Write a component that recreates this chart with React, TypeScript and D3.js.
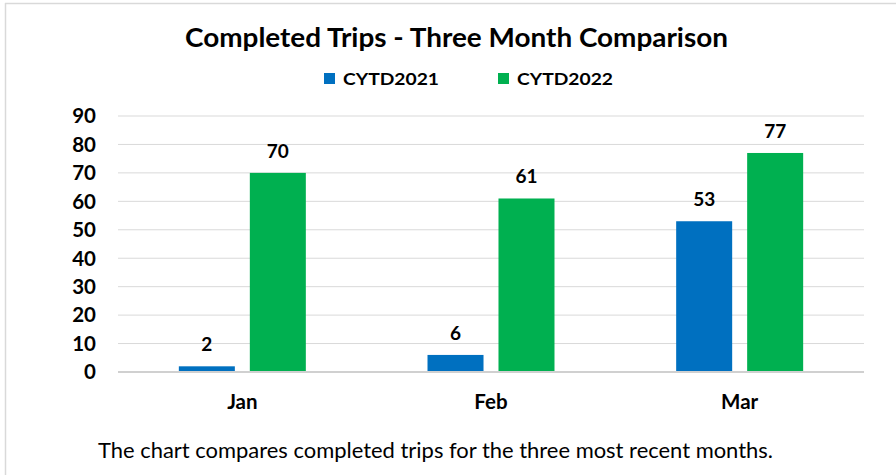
import React from "react";
import * as d3 from "d3";

const categories = ["Jan", "Feb", "Mar"];
const seriesNames = ["CYTD2021", "CYTD2022"];
const values2021 = [2, 6, 53];
const values2022 = [70, 61, 77];
const yTicks = [0, 10, 20, 30, 40, 50, 60, 70, 80, 90];
const colors = ["#0070C0", "#00B050"];

const W = 896;
const H = 475;
const FONT = "Lato, 'Open Sans', 'DejaVu Sans', sans-serif";

export default function App() {
  const left = 118;
  const right = 864;
  const top = 116;
  const bottom = 372;

  const y = d3.scaleLinear().domain([0, 90]).range([bottom, top]);
  const x0 = d3.scaleBand<string>().domain(categories).range([left, right]).padding(0);
  const x1 = d3
    .scaleBand<string>()
    .domain(seriesNames)
    .range([0, x0.bandwidth()])
    .paddingInner(0.211)
    .paddingOuter(0.857);

  const series = [values2021, values2022];

  return (
    <svg
      width={W}
      height={H}
      style={{ position: "absolute", left: 0, top: 0, background: "#fff" }}
      fontFamily={FONT}
    >
      <rect x={0} y={0} width={W} height={H} fill="#fff" />
      {/* chart border */}
      <line x1={5} y1={3.5} x2={W} y2={3.5} stroke="#d9d9d9" strokeWidth={1.5} />
      <line x1={5.5} y1={3} x2={5.5} y2={H} stroke="#d9d9d9" strokeWidth={1.5} />

      {/* title */}
      <text
        x={185}
        y={47}
        fontSize={26}
        fontWeight={700}
        fill="#000"
        textLength={543}
        lengthAdjust="spacingAndGlyphs"
      >
        Completed Trips - Three Month Comparison
      </text>

      {/* legend */}
      {seriesNames.map((s, i) => {
        const lx = i === 0 ? 324 : 498;
        return (
          <g key={s}>
            <rect x={lx} y={73} width={11} height={11} fill={colors[i]} />
            <text
              x={lx + 19}
              y={84.5}
              fontSize={17.5}
              fontWeight={700}
              fill="#000"
              textLength={96}
              lengthAdjust="spacingAndGlyphs"
            >
              {s}
            </text>
          </g>
        );
      })}

      {/* gridlines */}
      {yTicks.map((t) => (
        <line
          key={t}
          x1={left}
          x2={right}
          y1={y(t)}
          y2={y(t)}
          stroke={t === 0 ? "#d0d0d0" : "#d9d9d9"}
          strokeWidth={t === 0 ? 2 : 1}
        />
      ))}

      {/* y tick labels */}
      {yTicks.map((t) => (
        <text
          key={"l" + t}
          x={96}
          y={y(t)}
          dy="0.36em"
          textAnchor="end"
          fontSize={20.5}
          fontWeight={700}
          fill="#000"
        >
          {t}
        </text>
      ))}

      {/* bars */}
      {categories.map((c, ci) => (
        <g key={c} transform={`translate(${x0(c)},0)`}>
          {seriesNames.map((s, si) => {
            const v = series[si][ci];
            const bx = x1(s) as number;
            return (
              <g key={s}>
                <rect
                  x={bx}
                  y={y(v)}
                  width={x1.bandwidth()}
                  height={y(0) - y(v) - 1}
                  fill={colors[si]}
                />
                <text
                  x={bx + x1.bandwidth() / 2}
                  y={y(v) - 15}
                  textAnchor="middle"
                  fontSize={19}
                  fontWeight={700}
                  fill="#000"
                >
                  {v}
                </text>
              </g>
            );
          })}
        </g>
      ))}

      {/* x labels */}
      {categories.map((c) => (
        <text
          key={"x" + c}
          x={(x0(c) as number) + x0.bandwidth() / 2}
          y={409}
          textAnchor="middle"
          fontSize={20.5}
          fontWeight={700}
          fill="#000"
        >
          {c}
        </text>
      ))}

      {/* caption */}
      <text
        x={98}
        y={457.5}
        fontSize={21.5}
        fill="#000"
        textLength={675}
        lengthAdjust="spacingAndGlyphs"
      >
        The chart compares completed trips for the three most recent months.
      </text>
    </svg>
  );
}
